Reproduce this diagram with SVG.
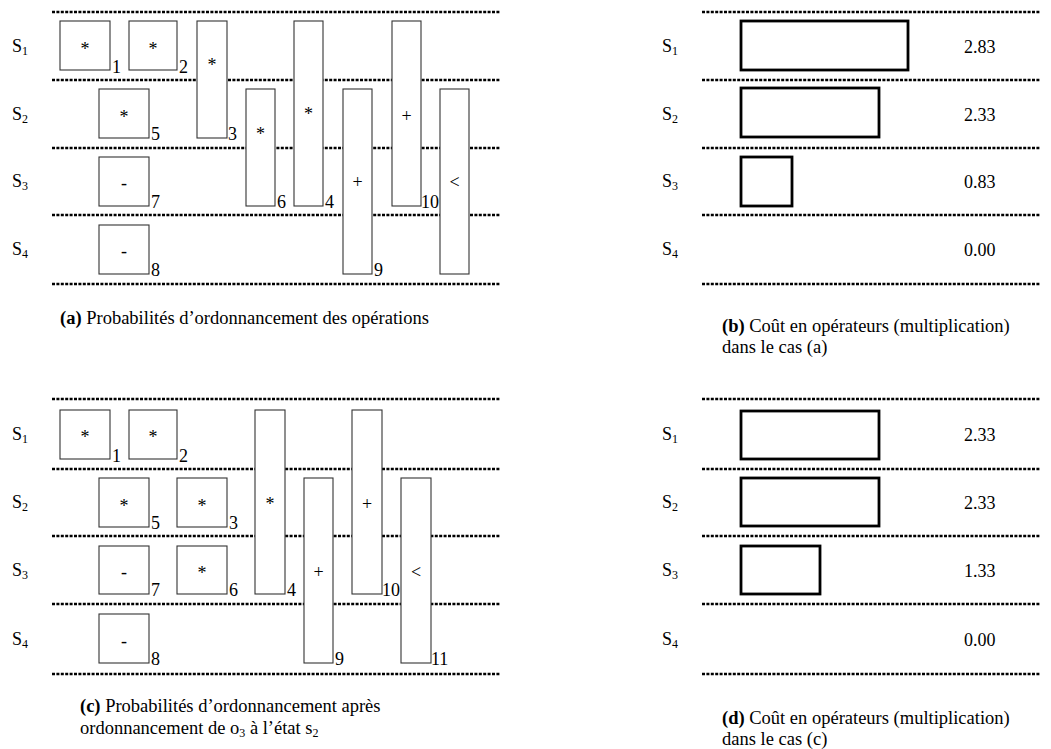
<svg xmlns="http://www.w3.org/2000/svg" width="1051" height="749" viewBox="0 0 1051 749">
<style>
.dot{stroke:#000;stroke-width:2.6;stroke-dasharray:3 1.4;fill:none}
.op{fill:#fff;stroke:#333;stroke-width:1.1}
.bar{fill:#fff;stroke:#000;stroke-width:2.8}
text{font-family:"Liberation Serif","Times New Roman",serif;font-size:18px;fill:#000}
.c{text-anchor:middle}
.sub{font-size:12px}
.cap{font-size:18.5px}
</style>
<rect width="1051" height="749" fill="#fff"/>

<!-- Panel (a) -->
<g id="panel-a">
  <g id="a-lines">
    <line class="dot" x1="52" y1="12" x2="500" y2="12"/>
    <line class="dot" x1="52" y1="80" x2="500" y2="80"/>
    <line class="dot" x1="52" y1="148" x2="500" y2="148"/>
    <line class="dot" x1="52" y1="215" x2="500" y2="215"/>
    <line class="dot" x1="52" y1="284" x2="500" y2="284"/>
  </g>
  <g id="a-states">
    <text x="12" y="52">S<tspan class="sub" dy="3">1</tspan></text>
    <text x="12" y="120">S<tspan class="sub" dy="3">2</tspan></text>
    <text x="12" y="187">S<tspan class="sub" dy="3">3</tspan></text>
    <text x="12" y="255">S<tspan class="sub" dy="3">4</tspan></text>
  </g>
  <g id="a-op1"><rect class="op" x="60" y="21" width="50" height="49"/><text class="c" x="85" y="55">*</text><text x="112" y="73">1</text></g>
  <g id="a-op2"><rect class="op" x="129" y="21" width="48" height="49"/><text class="c" x="153" y="55">*</text><text x="179" y="73">2</text></g>
  <g id="a-op3"><rect class="op" x="197" y="21" width="30" height="117"/><text class="c" x="212" y="71">*</text><text x="228" y="140">3</text></g>
  <g id="a-op5"><rect class="op" x="99" y="89" width="50" height="49"/><text class="c" x="124" y="123">*</text><text x="151" y="140">5</text></g>
  <g id="a-op6"><rect class="op" x="246" y="89" width="29" height="117"/><text class="c" x="260.5" y="140">*</text><text x="277" y="208">6</text></g>
  <g id="a-op4"><rect class="op" x="294" y="21" width="29" height="185"/><text class="c" x="308.5" y="120">*</text><text x="325" y="208">4</text></g>
  <g id="a-op9"><rect class="op" x="343" y="89" width="29" height="185"/><text class="c" x="357.5" y="188">+</text><text x="374" y="276">9</text></g>
  <g id="a-op10"><rect class="op" x="392" y="21" width="29" height="185"/><text class="c" x="406.5" y="122">+</text><text x="421" y="208">10</text></g>
  <g id="a-op11"><rect class="op" x="440" y="89" width="29" height="185"/><text class="c" x="454.5" y="188">&lt;</text></g>
  <g id="a-op7"><rect class="op" x="99" y="157" width="50" height="49"/><text class="c" x="124" y="189">-</text><text x="151" y="208">7</text></g>
  <g id="a-op8"><rect class="op" x="99" y="225" width="50" height="49"/><text class="c" x="124" y="257">-</text><text x="151" y="276">8</text></g>
  <text id="a-caption" class="cap" x="60" y="324"><tspan font-weight="bold">(a)</tspan> Probabilités d’ordonnancement des opérations</text>
</g>

<!-- Panel (b) -->
<g id="panel-b">
  <g id="b-lines">
    <line class="dot" x1="702" y1="12" x2="1040" y2="12"/>
    <line class="dot" x1="702" y1="80" x2="1040" y2="80"/>
    <line class="dot" x1="702" y1="148" x2="1040" y2="148"/>
    <line class="dot" x1="702" y1="215" x2="1040" y2="215"/>
    <line class="dot" x1="702" y1="284" x2="1040" y2="284"/>
  </g>
  <g id="b-states">
    <text x="662" y="52">S<tspan class="sub" dy="3">1</tspan></text>
    <text x="662" y="120">S<tspan class="sub" dy="3">2</tspan></text>
    <text x="662" y="187">S<tspan class="sub" dy="3">3</tspan></text>
    <text x="662" y="255">S<tspan class="sub" dy="3">4</tspan></text>
  </g>
  <g id="b-bar1"><rect class="bar" x="741" y="21" width="167" height="49"/><text x="964" y="53">2.83</text></g>
  <g id="b-bar2"><rect class="bar" x="741" y="88" width="138" height="49"/><text x="964" y="121">2.33</text></g>
  <g id="b-bar3"><rect class="bar" x="741" y="157" width="51" height="49"/><text x="964" y="188">0.83</text></g>
  <g id="b-bar4"><text x="964" y="256">0.00</text></g>
  <text id="b-caption" class="cap" x="722" y="332"><tspan font-weight="bold">(b)</tspan> Coût en opérateurs (multiplication)<tspan x="722" y="353">dans le cas (a)</tspan></text>
</g>

<!-- Panel (c) -->
<g id="panel-c">
  <g id="c-lines">
    <line class="dot" x1="52" y1="399" x2="500" y2="399"/>
    <line class="dot" x1="52" y1="469" x2="500" y2="469"/>
    <line class="dot" x1="52" y1="536" x2="500" y2="536"/>
    <line class="dot" x1="52" y1="604" x2="500" y2="604"/>
    <line class="dot" x1="52" y1="674" x2="500" y2="674"/>
  </g>
  <g id="c-states">
    <text x="12" y="440">S<tspan class="sub" dy="3">1</tspan></text>
    <text x="12" y="508">S<tspan class="sub" dy="3">2</tspan></text>
    <text x="12" y="576">S<tspan class="sub" dy="3">3</tspan></text>
    <text x="12" y="645">S<tspan class="sub" dy="3">4</tspan></text>
  </g>
  <g id="c-op1"><rect class="op" x="60" y="410" width="50" height="49"/><text class="c" x="85" y="443">*</text><text x="112" y="462">1</text></g>
  <g id="c-op2"><rect class="op" x="129" y="410" width="48" height="49"/><text class="c" x="153" y="443">*</text><text x="179" y="462">2</text></g>
  <g id="c-op5"><rect class="op" x="99" y="478" width="50" height="49"/><text class="c" x="124" y="512">*</text><text x="151" y="529">5</text></g>
  <g id="c-op3"><rect class="op" x="177" y="478" width="50" height="49"/><text class="c" x="202" y="512">*</text><text x="229" y="529">3</text></g>
  <g id="c-op7"><rect class="op" x="99" y="546" width="50" height="48"/><text class="c" x="124" y="578">-</text><text x="151" y="596">7</text></g>
  <g id="c-op6"><rect class="op" x="177" y="546" width="50" height="48"/><text class="c" x="202" y="579">*</text><text x="229" y="596">6</text></g>
  <g id="c-op4"><rect class="op" x="255" y="410" width="30" height="184"/><text class="c" x="270" y="510">*</text><text x="287" y="596">4</text></g>
  <g id="c-op9"><rect class="op" x="304" y="478" width="29" height="185"/><text class="c" x="318.5" y="578">+</text><text x="335" y="665">9</text></g>
  <g id="c-op10"><rect class="op" x="352" y="410" width="30" height="184"/><text class="c" x="367" y="510">+</text><text x="382" y="596">10</text></g>
  <g id="c-op11"><rect class="op" x="401" y="478" width="30" height="185"/><text class="c" x="416" y="578">&lt;</text><text x="431" y="665">11</text></g>
  <g id="c-op8"><rect class="op" x="99" y="614" width="50" height="49"/><text class="c" x="124" y="647">-</text><text x="151" y="665">8</text></g>
  <text id="c-caption" class="cap" x="80" y="712"><tspan font-weight="bold">(c)</tspan> Probabilités d’ordonnancement après<tspan x="80" y="734">ordonnancement de o</tspan><tspan class="sub" dy="3">3</tspan><tspan dy="-3"> à l’état s</tspan><tspan class="sub" dy="3">2</tspan></text>
</g>

<!-- Panel (d) -->
<g id="panel-d">
  <g id="d-lines">
    <line class="dot" x1="702" y1="399" x2="1040" y2="399"/>
    <line class="dot" x1="702" y1="469" x2="1040" y2="469"/>
    <line class="dot" x1="702" y1="536" x2="1040" y2="536"/>
    <line class="dot" x1="702" y1="604" x2="1040" y2="604"/>
    <line class="dot" x1="702" y1="674" x2="1040" y2="674"/>
  </g>
  <g id="d-states">
    <text x="662" y="440">S<tspan class="sub" dy="3">1</tspan></text>
    <text x="662" y="508">S<tspan class="sub" dy="3">2</tspan></text>
    <text x="662" y="576">S<tspan class="sub" dy="3">3</tspan></text>
    <text x="662" y="645">S<tspan class="sub" dy="3">4</tspan></text>
  </g>
  <g id="d-bar1"><rect class="bar" x="741" y="411" width="138" height="48"/><text x="964" y="441">2.33</text></g>
  <g id="d-bar2"><rect class="bar" x="741" y="478" width="138" height="48"/><text x="964" y="509">2.33</text></g>
  <g id="d-bar3"><rect class="bar" x="741" y="546" width="79" height="48"/><text x="964" y="577">1.33</text></g>
  <g id="d-bar4"><text x="964" y="646">0.00</text></g>
  <text id="d-caption" class="cap" x="722" y="724"><tspan font-weight="bold">(d)</tspan> Coût en opérateurs (multiplication)<tspan x="722" y="745">dans le cas (c)</tspan></text>
</g>
</svg>
